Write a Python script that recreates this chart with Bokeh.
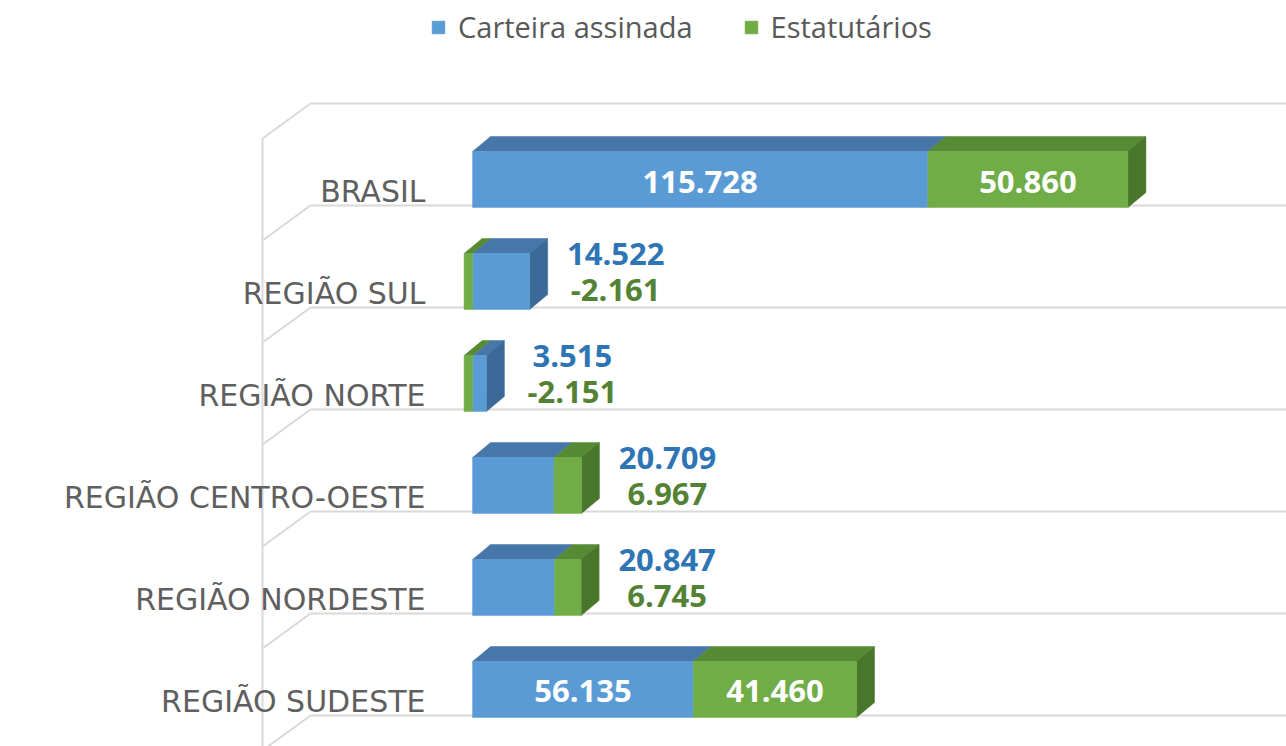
from bokeh.plotting import figure
from bokeh.models import Range1d, Legend, LegendItem, ColumnDataSource
from bokeh.core.properties import value
from bokeh.embed import file_html
from bokeh.resources import INLINE

# ---------------- data ----------------
categories = ["BRASIL", "REGIÃO SUL", "REGIÃO NORTE", "REGIÃO CENTRO-OESTE",
              "REGIÃO NORDESTE", "REGIÃO SUDESTE"]
carteira = [115728, 14522, 3515, 20709, 20847, 56135]
estatutarios = [50860, -2161, -2151, 6967, 6745, 41460]
series_names = ["Carteira assinada", "Estatutários"]

# ---------------- style ----------------
W, H = 1286, 746
X0, X1 = -120000, 206900
Y0, Y1 = -0.559, 6.755
SX = (X1 - X0) / W      # data units per px (x)
SY = (Y1 - Y0) / H      # data units per px (y)

BLUE, BLUE_TOP, BLUE_SIDE = "#5B9BD5", "#4677A8", "#3B6A98"
GREEN, GREEN_TOP, GREEN_SIDE = "#70AD47", "#568A35", "#48772C"
BLUE_TXT, GREEN_TXT = "#2E75B6", "#548235"
GRID = "#D9D9D9"
FONT = value("Open Sans")

BAR_H = 56 * SY
DX, DY = 18 * SX, 15 * SY


def fmt(v):
    return f"{v:,}".replace(",", ".")


n = len(categories)
ys = [n - 1 - i for i in range(n)]

p = figure(width=W, height=H, x_range=Range1d(X0, X1), y_range=Range1d(Y0, Y1),
           output_backend="svg", toolbar_location=None, min_border=0)
p.axis.visible = False
p.grid.visible = False
p.outline_line_color = None
p.background_fill_color = "white"

# ---------------- 3D walls / floor grid ----------------
xw0, xw1 = X0 + 262 * SX, X0 + 310 * SX
grid_y = [k - 26 * SY for k in range(n + 1)]
p.segment(x0=[xw1] * len(grid_y), y0=grid_y, x1=[X1] * len(grid_y), y1=grid_y,
          line_color=GRID, line_width=2)
p.segment(x0=[xw0] * len(grid_y), y0=[g - 35 * SY for g in grid_y],
          x1=[xw1] * len(grid_y), y1=grid_y, line_color=GRID, line_width=2)
p.segment(x0=[xw0], y0=[grid_y[-1] - 35 * SY], x1=[xw0], y1=[Y0],
          line_color=GRID, line_width=2)

# ---------------- bars ----------------
b_left, b_right, g_left, g_right = [], [], [], []
for c, s in zip(carteira, estatutarios):
    b_left.append(0)
    b_right.append(c)
    if s >= 0:
        g_left.append(c)
        g_right.append(c + s)
    else:
        g_left.append(s)
        g_right.append(0)

top_x, top_y, top_c = [], [], []
side_x, side_y, side_c = [], [], []
for y, bl, br, gl, gr, s in zip(ys, b_left, b_right, g_left, g_right, estatutarios):
    t, b = y + BAR_H / 2, y - BAR_H / 2
    for l, r, col in ((bl, br, BLUE_TOP), (gl, gr, GREEN_TOP)):
        top_x.append([l, r, r + DX, l + DX])
        top_y.append([t, t, t + DY, t + DY])
        top_c.append(col)
    R = max(br, gr)
    side_x.append([R, R + DX, R + DX, R])
    side_y.append([b, b + DY, t + DY, t])
    side_c.append(GREEN_SIDE if s >= 0 else BLUE_SIDE)

p.patches(xs=top_x, ys=top_y, fill_color=top_c, line_color=top_c, line_width=0.5)
p.patches(xs=side_x, ys=side_y, fill_color=side_c, line_color=side_c, line_width=0.5)

src = ColumnDataSource(dict(y=ys, bl=b_left, br=b_right, gl=g_left, gr=g_right))
rb = p.hbar(y="y", left="bl", right="br", height=BAR_H, source=src,
            fill_color=BLUE, line_color=BLUE, line_width=0.5)
rg = p.hbar(y="y", left="gl", right="gr", height=BAR_H, source=src,
            fill_color=GREEN, line_color=GREEN, line_width=0.5)

# ---------------- value labels ----------------
in_x, in_y, in_t = [], [], []
ob_x, ob_y, ob_t = [], [], []
og_x, og_y, og_t = [], [], []
for y, c, s, bl, br, gl, gr in zip(ys, carteira, estatutarios, b_left, b_right, g_left, g_right):
    if abs(c) >= 30000 and abs(s) >= 30000:
        in_x += [(bl + br) / 2, (gl + gr) / 2]
        in_y += [y - 2 * SY] * 2
        in_t += [fmt(c), fmt(s)]
    else:
        end = max(br, gr) + DX + 68 * SX
        ob_x.append(end); ob_y.append(y + 27 * SY); ob_t.append(fmt(c))
        og_x.append(end); og_y.append(y - 9 * SY); og_t.append(fmt(s))

p.text(x=in_x, y=in_y, text=in_t, text_align="center", text_baseline="middle",
       text_font=FONT, text_font_size="31px", text_font_style="bold", text_color="white")
p.text(x=ob_x, y=ob_y, text=ob_t, text_align="center", text_baseline="middle",
       text_font=FONT, text_font_size="31px", text_font_style="bold", text_color=BLUE_TXT)
p.text(x=og_x, y=og_y, text=og_t, text_align="center", text_baseline="middle",
       text_font=FONT, text_font_size="31px", text_font_style="bold", text_color=GREEN_TXT)

# ---------------- category labels ----------------
p.text(x=[X0 + 425 * SX] * n, y=[y - 12 * SY for y in ys], text=categories,
       text_align="right", text_baseline="middle", text_font=value("DejaVu Sans"),
       text_font_size="30px", text_color="#5F5F5F")

# ---------------- legend ----------------
legend = Legend(items=[LegendItem(label=series_names[0], renderers=[rb]),
                       LegendItem(label=series_names[1], renderers=[rg])],
                orientation="horizontal", location=(430, 700),
                glyph_width=16, glyph_height=16, label_standoff=12, spacing=50,
                label_text_font="Open Sans", label_text_font_size="29px",
                label_text_color="#595959", border_line_alpha=0,
                background_fill_alpha=0, padding=0, margin=0)
p.add_layout(legend, "center")

open("out.html", "w").write(file_html(p, INLINE))
